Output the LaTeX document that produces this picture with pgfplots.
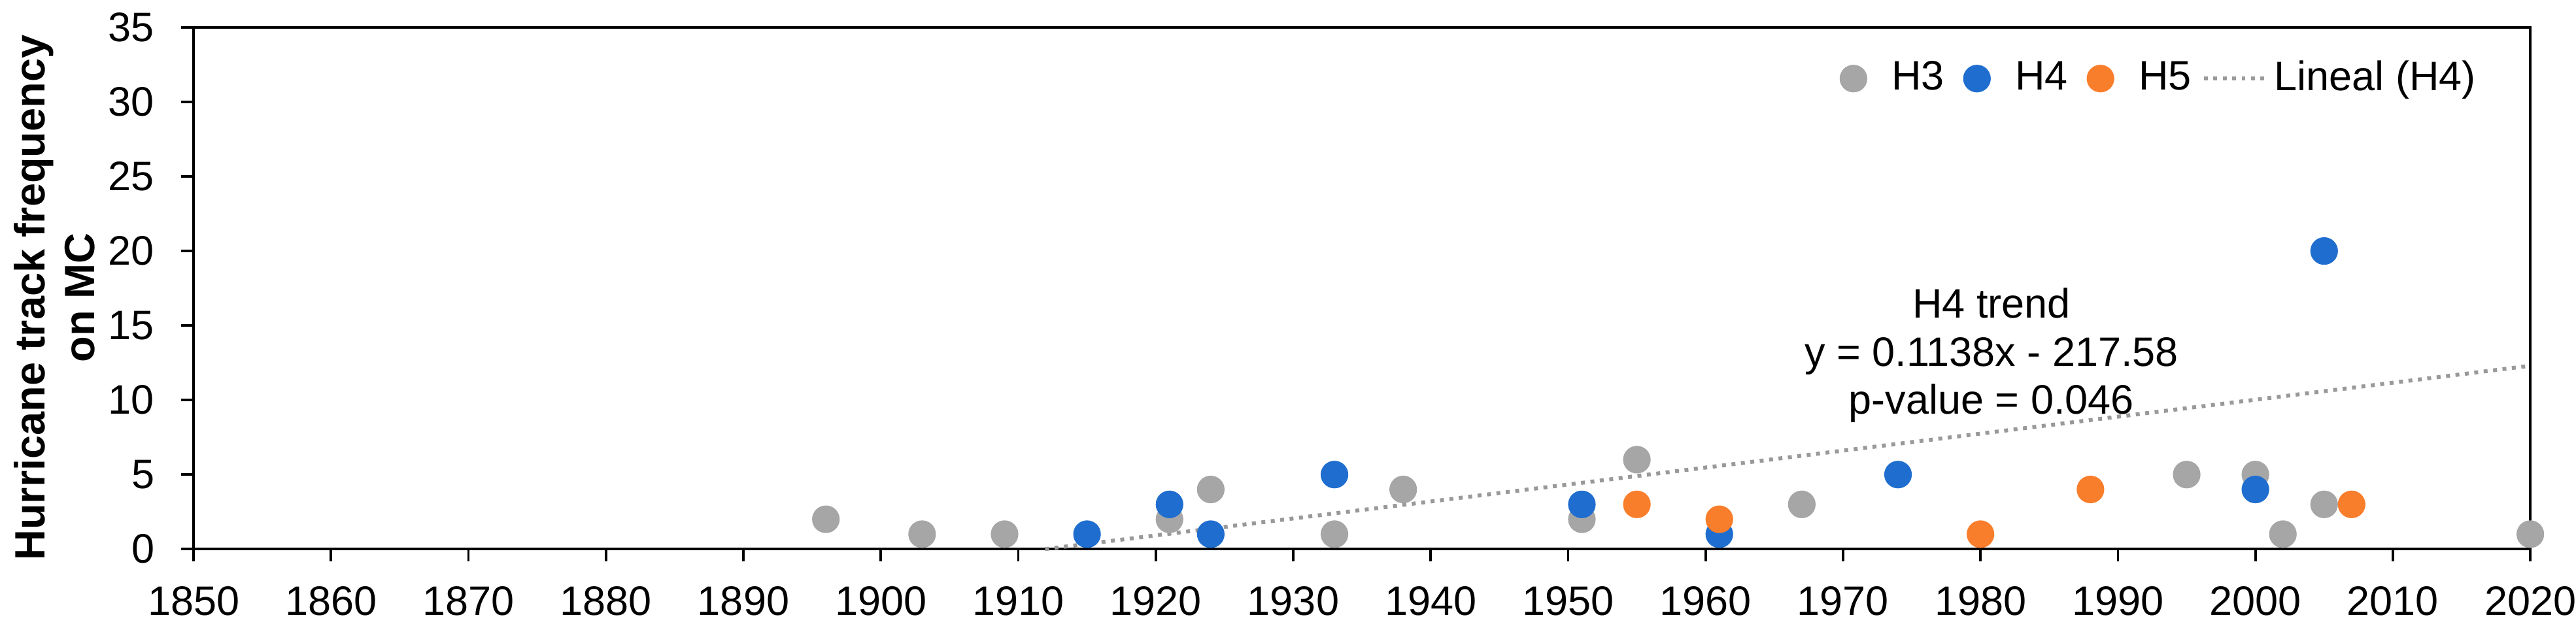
\documentclass[border=0pt]{standalone}
\usepackage{fontspec}
\setmainfont{Liberation Sans}
\usepackage{pgfplots}
\pgfplotsset{compat=1.18}
\definecolor{hgray}{HTML}{A6A6A6}
\definecolor{hblue}{HTML}{1F6ECF}
\definecolor{horange}{HTML}{F97E2C}
\definecolor{tgray}{HTML}{999999}

\begin{document}
\begin{tikzpicture}
  \begin{axis}[
    name=ax,
    scale only axis,
    width=567.3pt, height=126.7pt,
    xmin=1850, xmax=2020,
    ymin=0, ymax=35,
    xtick={1850,1860,...,2020},
    ytick={0,5,...,35},
    xtick pos=bottom, ytick pos=left,
    tick align=outside,
    major tick length=3pt,
    axis line style={line width=0.6pt},
    tick style={line width=0.6pt, black},
    /pgf/number format/assume math mode=true,
    /pgf/number format/1000 sep={},
    ticklabel style={font=\fontsize{10}{12}\selectfont},
    xticklabel style={yshift=-2.5pt},
    yticklabel style={xshift=-3pt},
    clip=false,
    ylabel={Hurricane track frequency\\on MC},
    every axis y label/.style={
      at={([xshift=-33.8pt]rel axis cs:0,0.482)},
      rotate=90, anchor=center, align=center,
      font=\bfseries\fontsize{10.3}{12}\selectfont},
    legend style={
      at={(rel axis cs:0.985,0.902)}, anchor=east,
      draw=none, fill=none,
      legend columns=-1,
      /tikz/every even column/.style={column sep=0pt},
      nodes={inner sep=1.5pt},
      font=\fontsize{10}{12}\selectfont},
    dotlegend/.style={legend image code/.code={
      \path (-6.2pt,0pt) (7.6pt,0pt);
      \draw plot coordinates {(0pt,0pt)};}},
  ]
    % H3
    \addplot[only marks, mark=*, mark size=3.15pt, color=hgray, dotlegend]
      coordinates {
        (1896,2) (1903,1) (1909,1) (1921,2) (1924,4) (1933,1) (1938,4)
        (1951,2) (1955,6) (1967,3) (1995,5) (2000,5) (2002,1) (2005,3)
        (2020,1)
      };
    \addlegendentry{H3}
    % H4
    \addplot[only marks, mark=*, mark size=3.15pt, color=hblue, dotlegend]
      coordinates {
        (1915,1) (1921,3) (1924,1) (1933,5) (1951,3) (1961,1) (1974,5)
        (2000,4) (2005,20)
      };
    \addlegendentry{H4}
    % H5
    \addplot[only marks, mark=*, mark size=3.15pt, color=horange, dotlegend]
      coordinates {
        (1955,3) (1961,2) (1980,1) (1988,4) (2007,3)
      };
    \addlegendentry{H5}
    % linear trend of H4
    \addplot[tgray, line width=0.95pt, dash pattern=on 0.95pt off 1.35pt,
      legend image code/.code={
        \path (-1pt,0pt) (15.2pt,0pt);
        \draw (0pt,0pt) -- (15pt,0pt);}]
      coordinates {(1911.95,0) (2020,12.30)};
    \addlegendentry{Lineal (H4)}

    \node[align=center, font=\fontsize{10}{11.6}\selectfont]
      at (axis cs:1980.8,13.0)
      {H4 trend\\y = 0.1138x - 217.58\\p-value = 0.046};
  \end{axis}
  \pgfresetboundingbox
  \path ([xshift=-47pt,yshift=-19.05pt]ax.south west)
    rectangle ([xshift=11.1pt,yshift=6.67pt]ax.north east);
\end{tikzpicture}
\end{document}
